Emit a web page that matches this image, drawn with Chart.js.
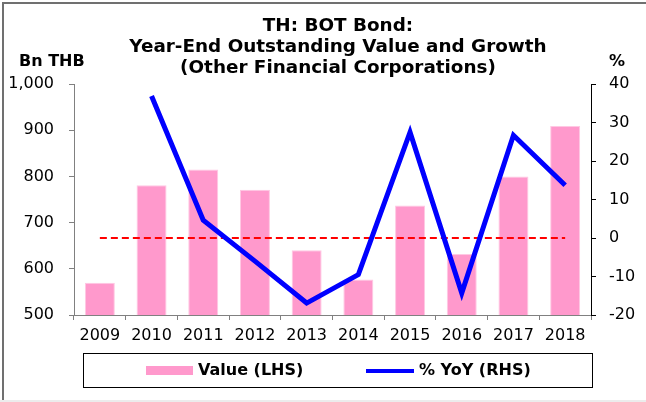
<!DOCTYPE html>
<html>
<head>
<meta charset="utf-8">
<script src="https://cdn.jsdelivr.net/npm/chart.js@4/dist/chart.umd.min.js"></script>
<style>
  html, body { margin: 0; padding: 0; background: #fff; }
  #wrap { position: relative; width: 646px; height: 402px; overflow: hidden; font-family: "DejaVu Sans", sans-serif; color: #000; }
  #frame { position: absolute; left: 2px; top: 2px; width: 650px; height: 398px; border-left: 2px solid #707070; border-top: 2px solid #707070; box-sizing: border-box; }
  #bottomline { position: absolute; left: 0; top: 400px; width: 646px; height: 2px; background: #ececec; }
  canvas { position: absolute; left: 0; top: 0; }
  .t { position: absolute; font-weight: bold; font-size: 16px; white-space: nowrap; line-height: 16px; }
  #title { position: absolute; left: 138px; width: 400px; top: 15px; text-align: center; font-weight: bold; font-size: 17px; line-height: 21px; white-space: nowrap; transform: scaleX(1.08); transform-origin: 200px 0; }
  #legend { position: absolute; left: 83px; top: 353px; width: 510px; height: 35px; border: 1px solid #000; box-sizing: border-box; background: #fff; }
  .sw { position: absolute; }
  .lt { position: absolute; top: 8px; font-weight: bold; font-size: 16px; line-height: 16px; white-space: nowrap; }
</style>
</head>
<body>
<div id="wrap">
  <canvas id="c" width="646" height="402"></canvas>
  <div id="frame"></div>
  <div id="bottomline"></div>
  <div id="title"></div>
  <div class="t" id="lunit" style="left:19px; top:53px;"></div>
  <div class="t" id="runit" style="left:609px; top:53px;"></div>
  <div id="legend"></div>
</div>
<script>
const titleLines = ["TH: BOT Bond:", "Year-End Outstanding Value and Growth", "(Other Financial Corporations)"];
const leftUnit = "Bn THB";
const rightUnit = "%";
const years = ["2009", "2010", "2011", "2012", "2013", "2014", "2015", "2016", "2017", "2018"];
const valueLHS = [570, 781, 815, 771, 640, 577, 737, 632, 800, 909];
const yoyRHS = [null, 36.9, 4.6, -6.0, -16.9, -9.5, 27.5, -14.3, 26.7, 13.7];
const zeroLine = [0, 0, 0, 0, 0, 0, 0, 0, 0, 0];
const leftTicks = [500, 600, 700, 800, 900, 1000];
const rightTicks = [-20, -10, 0, 10, 20, 30, 40];
const seriesNames = ["Value (LHS)", "% YoY (RHS)"];

document.getElementById('title').innerHTML = titleLines.map(s => '<div>' + s + '</div>').join('');
document.getElementById('lunit').textContent = leftUnit;
document.getElementById('runit').textContent = rightUnit;

const pink = '#FF99CC';
const blue = '#0000FF';

Chart.defaults.font.family = '"DejaVu Sans", sans-serif';
Chart.defaults.font.size = 16;
Chart.defaults.color = '#000';

const chart = new Chart(document.getElementById('c'), {
  data: {
    labels: years,
    datasets: [
      { type: 'line', label: seriesNames[1], data: yoyRHS, yAxisID: 'y1', borderColor: blue, borderWidth: 5,
        pointRadius: 0, tension: 0, fill: false, order: 0, spanGaps: false, borderJoinStyle: 'miter' },
      { type: 'line', label: 'zero', data: zeroLine, yAxisID: 'y1', borderColor: '#FF0000', borderWidth: 2,
        borderDash: [7, 4], pointRadius: 0, tension: 0, fill: false, order: 1 },
      { type: 'bar', label: seriesNames[0], data: valueLHS, yAxisID: 'y', backgroundColor: pink,
        borderColor: '#FFC8E3', borderWidth: 1, barPercentage: 0.58, categoryPercentage: 1.0, order: 2 }
    ]
  },
  options: {
    responsive: false,
    animation: false,
    devicePixelRatio: 1,
    layout: { padding: { top: 84, left: 0, right: 0, bottom: 0 } },
    plugins: { legend: { display: false }, title: { display: false }, tooltip: { enabled: false } },
    scales: {
      x: {
        offset: true,
        grid: { offset: true, drawOnChartArea: false, drawTicks: true, tickLength: 5, color: '#808080' },
        border: { color: '#808080', width: 1 },
        ticks: { padding: 6, maxRotation: 0, autoSkip: false },
        afterFit: s => { s.height = 87; }
      },
      y: {
        position: 'left', min: 500, max: 1000,
        afterBuildTicks: s => { s.ticks = leftTicks.map(v => ({ value: v })); },
        grid: { drawOnChartArea: false, drawTicks: true, tickLength: 5, color: '#808080' },
        border: { color: '#808080', width: 1 },
        ticks: { padding: 15, callback: v => v.toLocaleString('en-US') },
        afterFit: s => { s.width = 74; }
      },
      y1: {
        position: 'right', min: -20, max: 40,
        afterBuildTicks: s => { s.ticks = rightTicks.map(v => ({ value: v })); },
        grid: { drawOnChartArea: false, drawTicks: true, tickLength: 5, color: '#000' },
        border: { color: '#000', width: 1 },
        ticks: { padding: 13 },
        afterFit: s => { s.width = 55; }
      }
    }
  }
});

// Legend built from the chart's own datasets
const legend = document.getElementById('legend');
const barDs = chart.data.datasets[2];
const lineDs = chart.data.datasets[0];
legend.innerHTML =
  '<div class="sw" style="left:62px; top:12px; width:47px; height:9px; background:' + barDs.backgroundColor + '"></div>' +
  '<div class="lt" style="left:114px;">' + barDs.label + '</div>' +
  '<div class="sw" style="left:282px; top:15px; width:48px; height:4px; background:' + lineDs.borderColor + '"></div>' +
  '<div class="lt" style="left:335px;">' + lineDs.label + '</div>';
</script>
</body>
</html>
